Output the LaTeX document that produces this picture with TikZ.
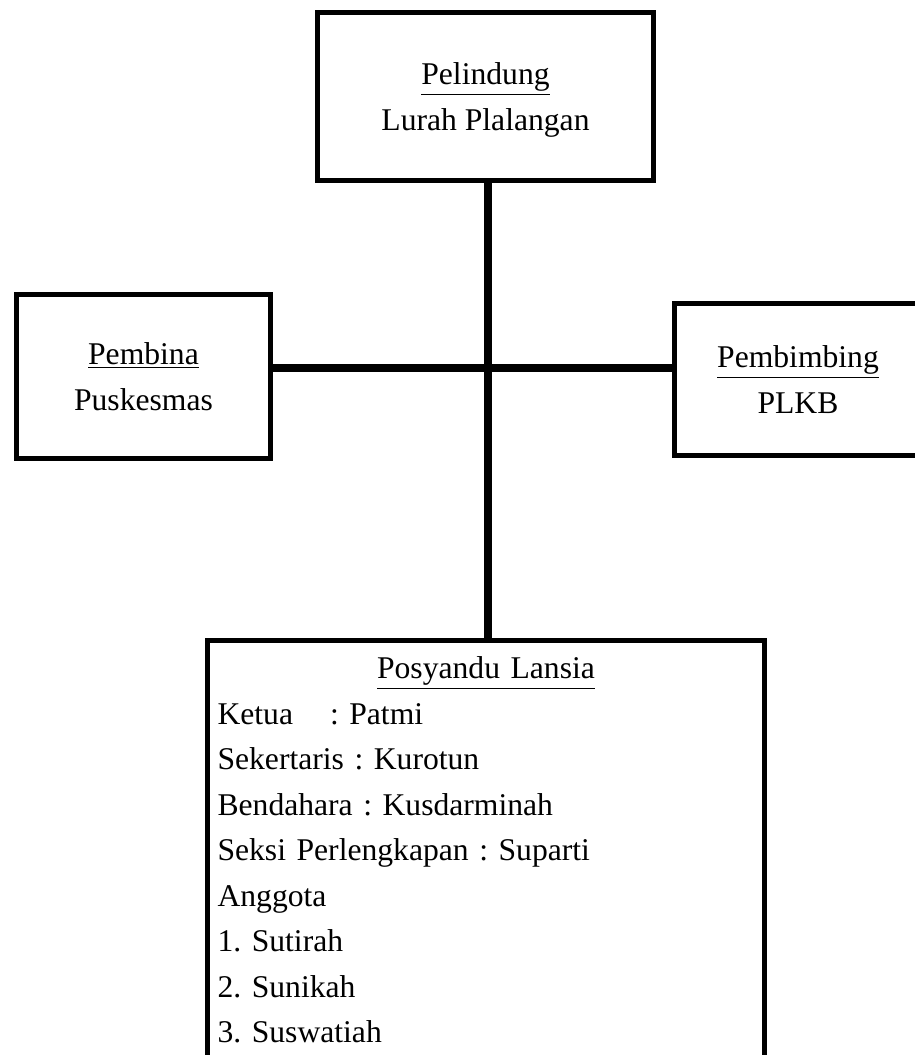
\documentclass[tikz,border=0pt]{standalone}
\usepackage{fontspec}
\setmainfont{Liberation Serif}
\usepackage{xcolor}
\usepackage{tikz}
\usetikzlibrary{calc,positioning}
\frenchspacing

\begin{document}
\begin{tikzpicture}[x=0.02cm, y=-0.02cm,
  orgbox/.style={draw=black, line width=0.1cm, align=center,
    font=\fontsize{18}{25.9}\selectfont},
  orgline/.style={line width=0.16cm}]
\useasboundingbox (0,0) rectangle (915,1055);

\node[orgbox, text depth=0pt, minimum width=6.74cm, minimum height=3.36cm] (pelindung) at (485.5,96.5) {\underline{Pelindung}\\Lurah Plalangan};
\node[orgbox, text depth=0pt, minimum width=5.08cm, minimum height=3.28cm] (pembina) at (143.5,376.5) {\underline{Pembina}\\Puskesmas};
\node[orgbox, text depth=0pt, minimum width=4.94cm, minimum height=3.04cm] (pembimbing) at (798,379.5) {\underline{Pembimbing}\\PLKB};

\node[orgbox, anchor=north, align=left, text width=10.74cm, inner xsep=0.2cm, inner ysep=9.5pt] (lansia) at (486,637.5) {
\hfill\underline{Posyandu Lansia}\hfill\null\\
\makebox[2.25cm][l]{Ketua}: Patmi\\
Sekertaris : Kurotun\\
Bendahara : Kusdarminah\\
Seksi Perlengkapan : Suparti\\
Anggota\\
1. Sutirah\\
2. Sunikah\\
3. Suswatiah\rule[-25pt]{0pt}{25pt}
};

\coordinate (hub) at (487.5,368);
\draw[orgline] (pelindung.south -| hub) -- (lansia.north -| hub);
\draw[orgline] (pembina.east |- hub) -- (pembimbing.west |- hub);
\end{tikzpicture}
\end{document}
